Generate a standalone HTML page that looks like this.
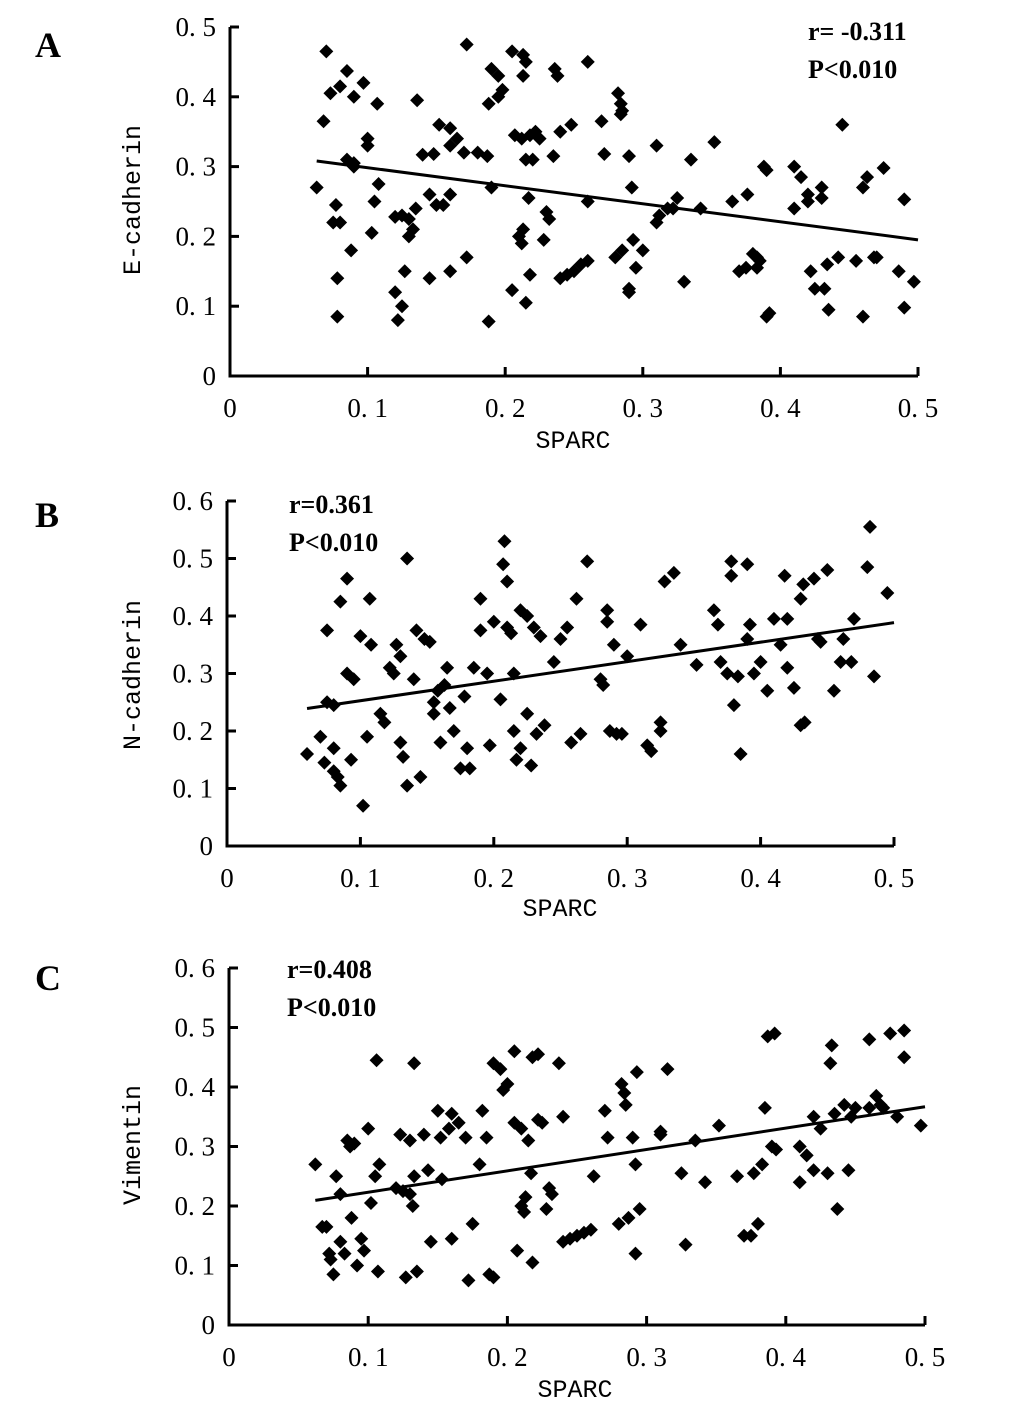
<!DOCTYPE html>
<html><head><meta charset="utf-8"><style>
html,body{margin:0;padding:0;background:#fff;}
svg{display:block;}
text{font-family:"Liberation Serif","Noto Serif CJK SC",serif;}
text.mono{font-family:"Liberation Mono",monospace;}
</style></head><body>
<svg id="fig" width="1033" height="1406" viewBox="0 0 1033 1406" xmlns="http://www.w3.org/2000/svg"></svg>
<script>
// Panel A: SPARC vs E-cadherin
const aX = [0.07,0.068,0.073,0.08,0.085,0.09,0.097,0.10,0.10,0.107,0.136,0.063,0.075,0.08,0.077,0.085,0.09,0.09,0.105,0.108,0.103,0.12,0.125,0.13,0.135,0.133,0.127,0.12,0.125,0.122,0.078,0.078,0.088,0.13,0.145,0.15,0.155,0.16,0.145,0.16,0.172,0.14,0.148,0.152,0.16,0.16,0.165,0.17,0.172,0.19,0.195,0.188,0.195,0.198,0.18,0.187,0.19,0.188,0.205,0.213,0.215,0.213,0.236,0.238,0.207,0.212,0.218,0.222,0.225,0.215,0.22,0.235,0.205,0.21,0.212,0.213,0.217,0.215,0.218,0.23,0.232,0.228,0.24,0.248,0.24,0.245,0.25,0.255,0.26,0.26,0.26,0.27,0.272,0.282,0.284,0.285,0.284,0.28,0.285,0.29,0.29,0.29,0.292,0.293,0.295,0.3,0.31,0.31,0.312,0.318,0.322,0.325,0.33,0.335,0.342,0.352,0.365,0.37,0.375,0.376,0.38,0.383,0.385,0.39,0.392,0.388,0.39,0.383,0.41,0.415,0.41,0.42,0.42,0.422,0.425,0.432,0.43,0.43,0.434,0.435,0.445,0.442,0.455,0.46,0.46,0.463,0.468,0.47,0.475,0.486,0.49,0.49,0.497];
const aY = [0.465,0.365,0.405,0.415,0.437,0.40,0.42,0.34,0.33,0.39,0.395,0.27,0.22,0.22,0.245,0.31,0.30,0.305,0.25,0.275,0.205,0.228,0.23,0.225,0.24,0.21,0.15,0.12,0.10,0.08,0.085,0.14,0.18,0.20,0.26,0.245,0.245,0.26,0.14,0.15,0.17,0.317,0.318,0.36,0.355,0.33,0.34,0.32,0.475,0.44,0.43,0.39,0.40,0.41,0.32,0.315,0.27,0.078,0.465,0.46,0.45,0.43,0.44,0.43,0.345,0.34,0.345,0.35,0.34,0.31,0.31,0.315,0.123,0.20,0.19,0.21,0.255,0.105,0.145,0.235,0.225,0.195,0.35,0.36,0.14,0.145,0.15,0.16,0.165,0.25,0.45,0.365,0.318,0.405,0.39,0.38,0.375,0.17,0.18,0.12,0.125,0.315,0.27,0.195,0.155,0.18,0.33,0.22,0.23,0.24,0.24,0.255,0.135,0.31,0.24,0.335,0.25,0.15,0.155,0.26,0.175,0.17,0.165,0.085,0.09,0.3,0.295,0.155,0.3,0.285,0.24,0.26,0.25,0.15,0.125,0.125,0.27,0.255,0.16,0.095,0.36,0.17,0.165,0.27,0.085,0.285,0.17,0.17,0.298,0.15,0.253,0.098,0.135];
// Panel B: SPARC vs N-cadherin
const bX = [0.06,0.07,0.075,0.073,0.075,0.08,0.08,0.083,0.085,0.08,0.085,0.09,0.09,0.095,0.093,0.1,0.102,0.105,0.107,0.108,0.115,0.118,0.122,0.125,0.127,0.13,0.13,0.132,0.135,0.135,0.14,0.142,0.145,0.148,0.152,0.155,0.155,0.158,0.16,0.163,0.165,0.167,0.17,0.175,0.178,0.18,0.182,0.185,0.19,0.19,0.195,0.197,0.2,0.205,0.207,0.208,0.21,0.21,0.213,0.215,0.215,0.217,0.22,0.22,0.225,0.225,0.228,0.23,0.232,0.235,0.238,0.245,0.25,0.255,0.258,0.262,0.265,0.27,0.28,0.282,0.285,0.285,0.287,0.29,0.292,0.296,0.3,0.31,0.315,0.318,0.325,0.325,0.328,0.335,0.34,0.352,0.365,0.368,0.37,0.375,0.378,0.378,0.38,0.383,0.385,0.39,0.39,0.392,0.395,0.405,0.41,0.415,0.418,0.42,0.425,0.43,0.432,0.433,0.43,0.44,0.443,0.445,0.45,0.455,0.46,0.462,0.468,0.47,0.48,0.482,0.485,0.495,0.4,0.42];
const bY = [0.16,0.19,0.375,0.145,0.25,0.13,0.17,0.12,0.105,0.245,0.425,0.465,0.3,0.29,0.15,0.365,0.07,0.19,0.43,0.35,0.23,0.215,0.31,0.3,0.35,0.33,0.18,0.155,0.5,0.105,0.29,0.375,0.12,0.36,0.355,0.25,0.23,0.27,0.18,0.28,0.31,0.24,0.2,0.135,0.26,0.17,0.135,0.31,0.375,0.43,0.3,0.175,0.39,0.255,0.49,0.53,0.46,0.38,0.37,0.3,0.2,0.15,0.17,0.41,0.4,0.23,0.14,0.38,0.195,0.365,0.21,0.32,0.36,0.38,0.18,0.43,0.195,0.495,0.29,0.28,0.41,0.39,0.2,0.35,0.195,0.195,0.33,0.385,0.175,0.165,0.215,0.2,0.46,0.475,0.35,0.315,0.41,0.385,0.32,0.3,0.47,0.495,0.245,0.295,0.16,0.36,0.49,0.385,0.3,0.27,0.395,0.35,0.47,0.395,0.275,0.21,0.455,0.215,0.43,0.465,0.36,0.355,0.48,0.27,0.32,0.36,0.32,0.395,0.485,0.555,0.295,0.44,0.32,0.31];
// Panel C: SPARC vs Vimentin
const cX = [0.062,0.067,0.07,0.072,0.073,0.075,0.077,0.08,0.08,0.083,0.085,0.087,0.09,0.088,0.092,0.095,0.097,0.1,0.102,0.105,0.106,0.108,0.107,0.12,0.123,0.125,0.127,0.13,0.13,0.132,0.133,0.135,0.133,0.14,0.143,0.145,0.15,0.152,0.153,0.158,0.16,0.16,0.165,0.17,0.172,0.175,0.18,0.182,0.185,0.187,0.19,0.19,0.195,0.197,0.2,0.205,0.205,0.21,0.207,0.21,0.212,0.213,0.215,0.217,0.218,0.218,0.222,0.222,0.225,0.228,0.23,0.232,0.237,0.24,0.24,0.245,0.25,0.255,0.26,0.262,0.27,0.272,0.28,0.282,0.284,0.285,0.287,0.29,0.292,0.292,0.293,0.295,0.31,0.31,0.315,0.325,0.328,0.335,0.342,0.352,0.365,0.37,0.375,0.377,0.38,0.383,0.385,0.387,0.392,0.39,0.393,0.41,0.41,0.415,0.42,0.42,0.425,0.43,0.432,0.433,0.435,0.437,0.442,0.445,0.447,0.45,0.46,0.46,0.465,0.468,0.47,0.475,0.48,0.485,0.485,0.497];
const cY = [0.27,0.165,0.165,0.12,0.11,0.085,0.25,0.22,0.14,0.12,0.31,0.30,0.305,0.18,0.1,0.145,0.125,0.33,0.205,0.25,0.445,0.27,0.09,0.23,0.32,0.225,0.08,0.22,0.31,0.2,0.44,0.09,0.25,0.32,0.26,0.14,0.36,0.315,0.245,0.33,0.355,0.145,0.34,0.315,0.075,0.17,0.27,0.36,0.315,0.085,0.08,0.44,0.43,0.395,0.405,0.46,0.34,0.33,0.125,0.2,0.19,0.215,0.31,0.255,0.45,0.105,0.455,0.345,0.34,0.195,0.23,0.22,0.44,0.35,0.14,0.145,0.15,0.155,0.16,0.25,0.36,0.315,0.17,0.405,0.39,0.37,0.18,0.315,0.12,0.27,0.425,0.195,0.325,0.32,0.43,0.255,0.135,0.31,0.24,0.335,0.25,0.15,0.15,0.255,0.17,0.27,0.365,0.485,0.49,0.3,0.295,0.3,0.24,0.285,0.26,0.35,0.33,0.255,0.44,0.47,0.355,0.195,0.37,0.26,0.35,0.365,0.48,0.365,0.385,0.37,0.365,0.49,0.35,0.495,0.45,0.335];

const xTicks = [0,0.1,0.2,0.3,0.4,0.5];
const xTickLabels = ["0","0. 1","0. 2","0. 3","0. 4","0. 5"];
const yTicksA = [0,0.1,0.2,0.3,0.4,0.5];
const yTickLabelsA = ["0","0. 1","0. 2","0. 3","0. 4","0. 5"];
const yTicksBC = [0,0.1,0.2,0.3,0.4,0.5,0.6];
const yTickLabelsBC = ["0","0. 1","0. 2","0. 3","0. 4","0. 5","0. 6"];

const NS = "http://www.w3.org/2000/svg";
const svg = document.getElementById('fig');
function mk(tag, attrs, parent){
  const e = document.createElementNS(NS, tag);
  for (const k in attrs) e.setAttribute(k, attrs[k]);
  (parent||svg).appendChild(e);
  return e;
}
function txt(s, attrs, parent){ const t = mk('text', attrs, parent); t.textContent = s; return t; }

function panel(cfg){
  const g = mk('g', {});
  
  
  const xs = v => cfg.x0 + v / 0.5 * (cfg.x1 - cfg.x0);
  const ys = v => cfg.y0 - v / cfg.ymax * (cfg.y0 - cfg.y1);
  const ax = mk('path', {d:`M${cfg.x0},${cfg.y1} V${cfg.y0} H${cfg.x1}`, fill:'none', stroke:'#000', 'stroke-width':3}, g);
  
  
  cfg.yTicks.forEach((v,i)=>{
    const y = ys(v);
    if (i>0) { const t = mk('line', {x1:cfg.x0, x2:cfg.x0+9, y1:y, y2:y, stroke:'#000','stroke-width':3}, g);
      
       }
    const l = txt(cfg.yLabels[i], {x:cfg.x0-14, y:y+9, 'text-anchor':'end', 'font-size':27, fill:'#000'}, g);
    
    
  });
  xTicks.forEach((v,i)=>{
    const x = xs(v);
    if (i>0) { const t = mk('line', {x1:x, x2:x, y1:cfg.y0, y2:cfg.y0-9, stroke:'#000','stroke-width':3}, g);
      
       }
    const l = txt(xTickLabels[i], {x:x, y:cfg.y0+41, 'text-anchor':'middle', 'font-size':27, fill:'#000'}, g);
    
    
  });
  const xt = txt('SPARC', {x:cfg.xTitleX, y:cfg.xTitleY, 'text-anchor':'middle','font-size':25, fill:'#000', class:'mono'}, g);
  
  
  const yt = txt(cfg.yTitle, {x:0, y:0, 'text-anchor':'middle','font-size':25, fill:'#000', class:'mono', transform:`translate(${cfg.yTitleX},${cfg.yTitleY}) rotate(-90)`}, g);
  
  
  cfg.X.forEach((xv,i)=>{
    const cx = xs(xv), cy = ys(cfg.Y[i]);
    const p = mk('path', {d:`M${cx},${cy-7} L${cx+7},${cy} L${cx},${cy+7} L${cx-7},${cy} Z`, fill:'#000'}, g);
    
    
  });
  const n = cfg.X.length;
  const mx = cfg.X.reduce((a,b)=>a+b,0)/n, my = cfg.Y.reduce((a,b)=>a+b,0)/n;
  let sxy=0, sxx=0;
  for (let i=0;i<n;i++){ sxy += (cfg.X[i]-mx)*(cfg.Y[i]-my); sxx += (cfg.X[i]-mx)**2; }
  const b = sxy/sxx, a = my - b*mx;
  const xmin = Math.min(...cfg.X), xmax = 0.5;
  const rl = mk('line', {x1:xs(xmin), y1:ys(a+b*xmin), x2:xs(xmax), y2:ys(a+b*xmax), stroke:'#000','stroke-width':3}, g);
  
  
  const r1 = txt(cfg.r, {x:cfg.annX, y:cfg.annY, 'font-size':26, 'font-weight':'bold', fill:'#000'}, g);
  
  
  const p1 = txt('P<0.010', {x:cfg.annX, y:cfg.annY+38, 'font-size':26, 'font-weight':'bold', fill:'#000'}, g);
  
  
  const pl = txt(cfg.letter, {x:35, y:cfg.letterY, 'font-size':36, 'font-weight':'bold', fill:'#000'}, g);
  
  
}

panel({name:'panel-a', X:aX, Y:aY, x0:230, x1:918, y0:376, y1:27, ymax:0.5, yTicks:yTicksA, yLabels:yTickLabelsA,
  yTitle:'E-cadherin', yTitleX:140, yTitleY:200, xTitleX:573, xTitleY:448, r:'r= -0.311', annX:808, annY:40, letter:'A', letterY:57});
panel({name:'panel-b', X:bX, Y:bY, x0:227, x1:894, y0:846, y1:501, ymax:0.6, yTicks:yTicksBC, yLabels:yTickLabelsBC,
  yTitle:'N-cadherin', yTitleX:140, yTitleY:675, xTitleX:560, xTitleY:916, r:'r=0.361', annX:289, annY:513, letter:'B', letterY:527});
panel({name:'panel-c', X:cX, Y:cY, x0:229, x1:925, y0:1325, y1:968, ymax:0.6, yTicks:yTicksBC, yLabels:yTickLabelsBC,
  yTitle:'Vimentin', yTitleX:140, yTitleY:1145, xTitleX:575, xTitleY:1397, r:'r=0.408', annX:287, annY:978, letter:'C', letterY:990});
</script>
</body></html>
